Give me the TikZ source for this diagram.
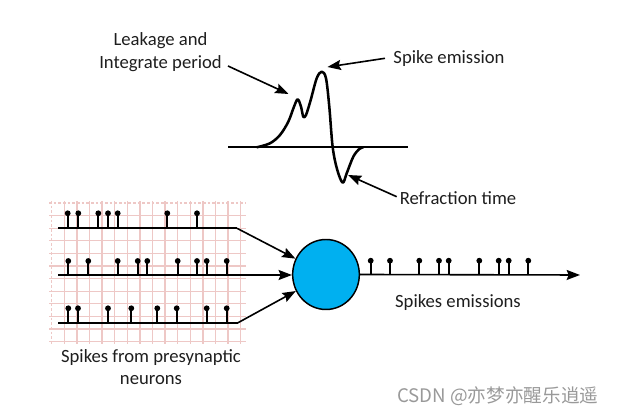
\documentclass[tikz,border=0pt]{standalone}
\usepackage{fontspec}
\setmainfont{Carlito}
\newfontfamily\cjkwm{Noto Sans CJK SC}
\usetikzlibrary{arrows.meta,shapes.geometric}
\definecolor{gridpink}{HTML}{EEC8C6}
\definecolor{neuroncol}{HTML}{00B0F0}
\definecolor{txt}{HTML}{1E1E1E}
\tikzset{
  lbl/.style={font=\fontsize{14pt}{17pt}\selectfont, text=txt, inner sep=0pt, align=center},
  arr/.style={line width=1.2pt, -{Stealth[length=10pt,width=7.5pt,inset=1.5pt]}},
  train/.style={line width=1.6pt},
  stem/.style={line width=1.7pt},
  gridln/.style={draw=gridpink, line width=1pt},
  gridedge/.style={draw=gridpink, line width=1pt, dash pattern=on 2pt off 1.5pt},
}
\newcommand{\spk}[3]{% x, base y, head y
  \draw[stem] (#1,#2) -- (#1,#3);
  \fill (#1,#3) circle (2.9);
}
\begin{document}
\begin{tikzpicture}[x=0.75pt,y=-0.75pt]
\useasboundingbox (0,0) rectangle (619,416);
% grid
\foreach \k in {1,...,15} {\draw[gridln] (51.7+12.6*\k,201) -- (51.7+12.6*\k,344);}
\foreach \k in {1,...,11} {\draw[gridln] (49,203+12.6*\k) -- (246,203+12.6*\k);}
\draw[gridedge] (51.7,201) -- (51.7,344);
\draw[gridedge] (49,203) -- (246,203);
% neuron
\node[ellipse, draw=black, line width=1.1pt, fill=neuroncol, minimum width=50pt, minimum height=52.5pt, inner sep=0pt] (neuron) at (326,274.5) {};
% input trains
\coordinate (t1s) at (58,228.3);
\coordinate (t1e) at (237,228.3);
\coordinate (t2s) at (58,275);
\coordinate (t3s) at (58,323.3);
\coordinate (t3e) at (237,323.3);
\draw[train] (t1s) -- (t1e);
\draw[arr] (t1e) -- (neuron);
\draw[arr] (t2s) -- (neuron.west |- t2s);
\draw[train] (t3s) -- (t3e);
\draw[arr] (t3e) -- (neuron);
\foreach \x in {67.7,78.3,98.3,108,117.7,167.3,197} {\spk{\x}{228.3}{213.3}}
\foreach \x in {68.3,88.3,117.7,137.7,147.3,177.7,197,206.7,226.7} {\spk{\x}{275}{261}}
\foreach \x in {68.3,78,108,131.3,157.3,176.7,206.7,226.7} {\spk{\x}{323.3}{308.3}}
% output train
\coordinate (outend) at (580,275);
\draw[arr] (neuron.east) -- (outend);
\foreach \x in {370.7,390,419.3,439,448.7,479.3,498.7,508.7,528.3} {\spk{\x}{275}{260.7}}
% labels
\node[lbl] (presyn) at (151,367) {Spikes from presynaptic\\neurons};
\node[lbl] (outlbl) at (458,303) {Spikes emissions};
% waveform
\coordinate (axl) at (228,147.3);
\coordinate (axr) at (408,147.3);
\draw[line width=1.2pt] (axl) -- (axr);
\draw[line width=1.9pt, line join=round] plot[smooth, tension=0.55] coordinates {
(256.7,147.3) (270,143.3) (280,135) (288.3,121.7) (294,106.7) (297.7,99.3) (301,106.7) (303.3,116.7) (306,115) (310.7,100) (316.7,78.3) (321.7,71.7) (326,78.3) (329.3,106.7) (332.7,147.3) (337.3,170) (342.7,182.7) (346.7,173.3) (353.3,156.7) (359.3,149) (363.3,147.3)};
\node[lbl] (leak) at (160.5,52) {Leakage and\\Integrate period};
\node[lbl] (spikeem) at (449,58.3) {Spike emission};
\node[lbl] (refr) at (458,198) {Refraction time};
\coordinate (leakA) at (228,66);
\coordinate (leakB) at (288.5,94);
\coordinate (spkA) at (385,58.3);
\coordinate (spkB) at (327.5,67);
\coordinate (refA) at (396.7,196.7);
\coordinate (refB) at (348,175);
\draw[arr] (leakA) -- (leakB);
\draw[arr] (spkA) -- (spkB);
\draw[arr] (refA) -- (refB);
% watermark
\node[font=\cjkwm\fontsize{14pt}{16pt}\selectfont, text=black!40, inner sep=0pt] (wm) at (497.7,396) {CSDN @亦梦亦醒乐逍遥};
\end{tikzpicture}
\end{document}
